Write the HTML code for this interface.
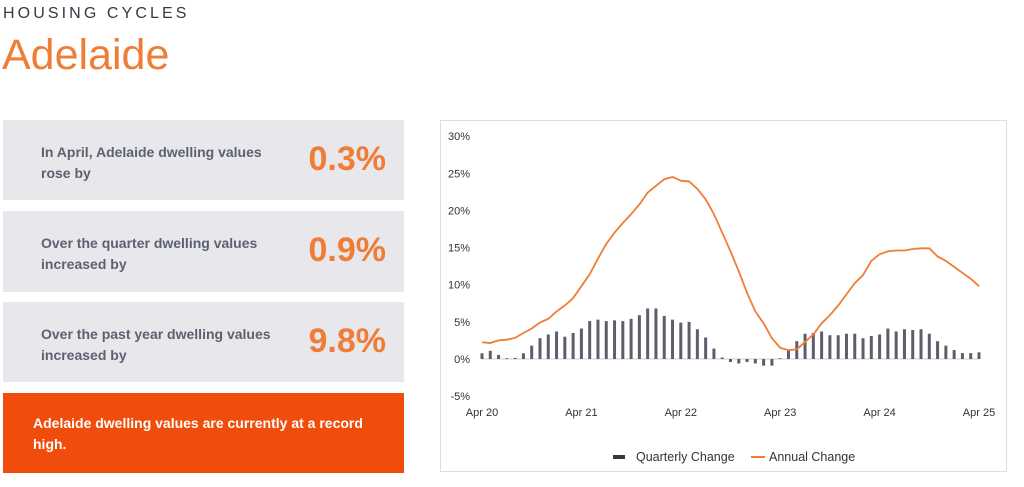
<!DOCTYPE html>
<html><head><meta charset="utf-8"><style>
body{margin:0;width:1024px;height:487px;background:#fff;font-family:"Liberation Sans",sans-serif;position:relative;overflow:hidden}
.h{position:absolute;left:3px;top:5px;font-size:16px;letter-spacing:3.1px;color:#333a44}
.t{position:absolute;left:2px;top:31px;font-size:43px;color:#ef7d35}
.p{position:absolute;left:3px;width:401px;background:#e8e8ec}
.p .l{position:absolute;left:38px;top:22px;width:240px;font-size:14px;font-weight:bold;color:#5c6170;line-height:21px}
.p .v{position:absolute;right:18px;top:20px;font-size:34px;font-weight:bold;color:#ef7d35}
.o{position:absolute;left:3px;top:393px;width:401px;height:80px;background:#f04c0c}
.o div{position:absolute;left:30px;top:20px;width:340px;color:#fff;font-weight:bold;font-size:14px;line-height:21px}
.c{position:absolute;left:440px;top:120px;width:567px;height:352px;border:1px solid #ddd;box-sizing:border-box}
</style></head><body>
<div class="h">HOUSING CYCLES</div>
<div class="t">Adelaide</div>
<div class="p" style="top:120px;height:80px"><div class="l">In April, Adelaide dwelling values rose by</div><div class="v">0.3%</div></div>
<div class="p" style="top:211px;height:81px"><div class="l">Over the quarter dwelling values increased by</div><div class="v">0.9%</div></div>
<div class="p" style="top:302px;height:80px"><div class="l">Over the past year dwelling values increased by</div><div class="v">9.8%</div></div>
<div class="o"><div>Adelaide dwelling values are currently at a record high.</div></div>
<div class="c"></div>
<svg id="s" width="1024" height="487" style="position:absolute;left:0;top:0" font-family="Liberation Sans, sans-serif"></svg>
<script>
var q=[0.77,1.1,0.55,0.1,0.15,0.77,1.8,2.8,3.3,3.7,3.0,3.5,4.1,5.1,5.3,5.1,5.2,5.1,5.4,5.9,6.8,6.8,5.8,5.3,4.9,5.0,4.0,2.9,1.4,0.2,-0.4,-0.6,-0.4,-0.6,-0.9,-0.9,0.1,1.2,2.4,3.4,3.5,3.7,3.2,3.2,3.4,3.4,2.8,3.1,3.3,4.1,3.7,4.0,3.9,4.0,3.4,2.4,1.8,1.2,0.8,0.8,0.9];
var a=[2.25,2.15,2.5,2.6,2.85,3.5,4.1,4.9,5.4,6.4,7.2,8.2,9.8,11.4,13.5,15.5,17,18.3,19.5,20.8,22.4,23.3,24.2,24.5,24,23.9,22.9,21.5,19.5,17,14.5,11.8,8.9,6.4,4.8,2.8,1.5,1.2,1.3,2.3,3.3,4.8,5.9,7.2,8.7,10.2,11.3,13.2,14.1,14.5,14.6,14.6,14.8,14.9,14.9,13.8,13.2,12.4,11.6,10.8,9.8];
var X=function(i){return 482+i*497/60},Y=function(v){return 359-v*7.43};
var h='';
for(var t=-5;t<=30;t+=5)h+='<text x="470" y="'+(Y(t)+4)+'" font-size="11" fill="#333" text-anchor="end">'+t+'%</text>';
h+='<line x1="482" x2="979" y1="359" y2="359" stroke="#ccc"/>';
var L=['Apr 20','Apr 21','Apr 22','Apr 23','Apr 24','Apr 25'];
for(var k=0;k<6;k++)h+='<text x="'+X(k*12)+'" y="416" font-size="11" fill="#333" text-anchor="middle">'+L[k]+'</text>';
q.forEach(function(v,i){var y1=Y(Math.max(v,0)),y2=Y(Math.min(v,0));h+='<rect x="'+(X(i)-1.5)+'" y="'+y1+'" width="3" height="'+Math.max(y2-y1,0.5)+'" fill="#5f5c6b"/>';});
h+='<polyline fill="none" stroke="#ef7d35" stroke-width="1.8" points="'+a.map(function(v,i){return X(i)+','+Y(v)}).join(' ')+'"/>';
h+='<rect x="613" y="455" width="12" height="4" fill="#333a44"/><text x="636" y="461" font-size="12.5" fill="#333">Quarterly Change</text>';
h+='<line x1="751" x2="765" y1="457" y2="457" stroke="#ef7d35" stroke-width="2"/><text x="769" y="461" font-size="12.5" fill="#333">Annual Change</text>';
document.getElementById('s').innerHTML=h;
</script>
</body></html>
